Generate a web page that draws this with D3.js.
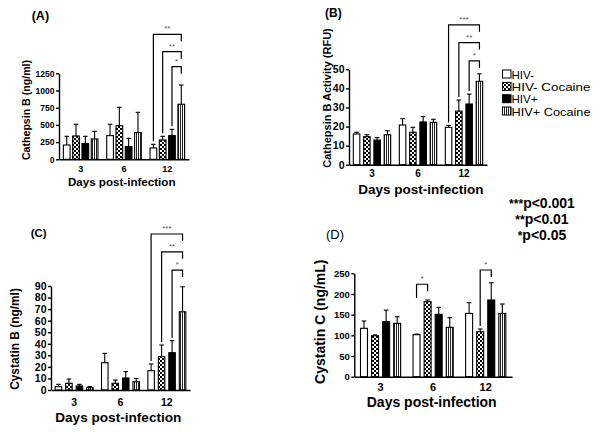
<!DOCTYPE html>
<html><head><meta charset="utf-8">
<script src="https://cdn.jsdelivr.net/npm/d3@7"></script>
<style>body{margin:0;background:#fff;}svg{display:block;font-family:"Liberation Sans",Arial,sans-serif;}</style>
</head><body>
<svg id="chart" width="600" height="432"></svg>
<script>
// ---------- data ----------
const days = ["3", "6", "12"];
const groups = ["HIV-", "HIV- Cocaine", "HIV+", "HIV+ Cocaine"];

// Panel A: Cathepsin B (ng/ml)
const cathepsinB_mean = [[208, 339, 228, 296], [344, 489, 184, 388], [165, 281, 344, 800]];
const cathepsinB_sem  = [[126, 170, 106, 111], [165, 267, 121, 295], [53, 53, 92, 280]];
const cathepsinB_ticks = [0, 250, 500, 750, 1000, 1250];
const cathepsinB_brackets = [[2, 0, 3, "**", 1817], [2, 1, 3, "**", 1564], [2, 2, 3, "*", 1346]];

// Panel B: Cathepsin B Activity (RFU)
const activity_mean = [[16.1, 14.7, 12.9, 15.7], [20.8, 17.0, 22.4, 22.2], [19.6, 28.1, 31.8, 43.7]];
const activity_sem  = [[0.9, 1.0, 1.3, 2.1], [3.3, 2.6, 2.8, 1.6], [1.0, 5.8, 5.2, 3.9]];
const activity_ticks = [0, 10, 20, 30, 40, 50];
const activity_brackets = [[2, 0, 3, "***", 73.3], [2, 1, 3, "**", 64], [2, 2, 3, "*", 54.4]];

// Panel C: Cystatin B (ng/ml)
const cystatinB_mean = [[2.9, 5.8, 3.5, 2.0], [23.6, 5.8, 10.4, 7.2], [16.7, 28.8, 32.3, 67.7]];
const cystatinB_sem  = [[2.0, 3.7, 1.4, 0.9], [8.1, 2.8, 5.5, 2.8], [5.8, 10.1, 10.4, 21.6]];
const cystatinB_ticks = [0, 10, 20, 30, 40, 50, 60, 70, 80, 90];
const cystatinB_brackets = [[2, 0, 3, "***", 135], [2, 1, 3, "**", 119.6], [2, 2, 3, "*", 103.8]];

// Panel D: Cystatin C (ng/mL)
const cystatinC_mean = [[117, 99, 133, 129], [101.6, 181.5, 150.8, 119.4], [153, 108.9, 185.5, 153]];
const cystatinC_sem  = [[17.7, 2, 28, 16], [1.4, 4, 16.9, 23.3], [26, 6.4, 41.5, 22.8]];
const cystatinC_ticks = [0, 50, 100, 150, 200, 250];
const cystatinC_brackets = [[1, 0, 1, "*", 223.5, 190], [2, 1, 2, "*", 258]];

const sigLabels = [["***", "p<0.001"], ["**", "p<0.01"], ["*", "p<0.05"]];

// ---------- layout ----------
const panels = [
  {label: "(A)", lw: "bold", lx: 31.7, ly: 20, lf: 12.5,
   mean: cathepsinB_mean, sem: cathepsinB_sem, ticks: cathepsinB_ticks, br: cathepsinB_brackets,
   ytitle: "Cathepsin B (ng/ml)", ytx: 26, yty: 110, ytf: 10.6,
   left: 59, right: 189, y0: 159.3, yTop: 73.3, pi: 0.28, po: 0.47,
   tf: 8.5, xf: 9, xpad: 6.3, xtf: 11.6, xtx: 121.7, xty: 186},
  {label: "(B)", lw: "bold", lx: 325, ly: 17, lf: 12,
   mean: activity_mean, sem: activity_sem, ticks: activity_ticks, br: activity_brackets,
   ytitle: "Cathepsin B Activity (RFU)", ytx: 326.7, yty: 98, ytf: 11,
   left: 349, right: 487, y0: 164.7, yTop: 69.3, pi: 0.37, po: 0.42,
   tf: 10.5, xf: 10, xpad: 5.1, xtf: 13.5, xtx: 420.8, xty: 194.3},
  {label: "(C)", lw: "bold", lx: 30.7, ly: 236.5, lf: 11.5,
   mean: cystatinB_mean, sem: cystatinB_sem, ticks: cystatinB_ticks, br: cystatinB_brackets,
   ytitle: "Cystatin B (ng/ml)", ytx: 15, yty: 339, ytf: 11.9,
   left: 51, right: 190, y0: 390, yTop: 286, pi: 0.38, po: 0.4,
   tf: 10.5, xf: 10.5, xpad: 9, xtf: 13.6, xtx: 118.3, xty: 421.7},
  {label: "(D)", lw: "normal", lx: 326, ly: 239, lf: 13,
   mean: cystatinC_mean, sem: cystatinC_sem, ticks: cystatinC_ticks, br: cystatinC_brackets,
   ytitle: "Cystatin C (ng/mL)", ytx: 320, yty: 321.7, ytf: 14,
   left: 354.3, right: 512, y0: 376.7, yTop: 273.3, pi: 0.37, po: 0.56,
   tf: 9.5, xf: 11, xpad: 6.2, xtf: 14, xtx: 431.7, xty: 406.7}
];

const svg = d3.select("#chart");
const defs = svg.append("defs");
// checker pattern
const chk = defs.append("pattern").attr("id", "checker").attr("patternUnits", "userSpaceOnUse")
  .attr("width", 4).attr("height", 4);
chk.append("rect").attr("width", 4).attr("height", 4).attr("fill", "#fff");
chk.append("rect").attr("width", 2).attr("height", 2).attr("fill", "#000");
chk.append("rect").attr("x", 2).attr("y", 2).attr("width", 2).attr("height", 2).attr("fill", "#000");
// vertical stripe pattern
const str = defs.append("pattern").attr("id", "stripes").attr("patternUnits", "userSpaceOnUse")
  .attr("width", 2).attr("height", 4);
str.append("rect").attr("width", 2).attr("height", 4).attr("fill", "#fff");
str.append("rect").attr("width", 1).attr("height", 4).attr("fill", "#222");

const fills = ["#fff", "url(#checker)", "#000", "url(#stripes)"];

panels.forEach(p => {
  const g = svg.append("g");
  const max = p.ticks[p.ticks.length - 1];
  const y = d3.scaleLinear().domain([0, max]).range([p.y0, p.yTop]);
  const x0 = d3.scaleBand().domain(days).range([p.left, p.right]).padding(0);
  const x1 = d3.scaleBand().domain(groups).range([0, x0.bandwidth()])
    .paddingInner(p.pi).paddingOuter(p.po);

  // bars + error bars
  days.forEach((d, di) => {
    groups.forEach((gr, gi) => {
      const m = p.mean[di][gi], s = p.sem[di][gi];
      const bx = x0(d) + x1(gr), bw = x1.bandwidth(), cx = bx + bw / 2;
      g.append("line").attr("x1", cx).attr("x2", cx).attr("y1", y(m)).attr("y2", y(m + s))
        .attr("stroke", "#000").attr("stroke-width", 1.1);
      g.append("line").attr("x1", cx - 2.3).attr("x2", cx + 2.3).attr("y1", y(m + s)).attr("y2", y(m + s))
        .attr("stroke", "#000").attr("stroke-width", 1.1);
      g.append("rect").attr("x", bx).attr("y", y(m)).attr("width", bw).attr("height", p.y0 - y(m))
        .attr("fill", fills[gi]).attr("stroke", "#000").attr("stroke-width", 1.1);
    });
  });

  // axes
  const ya = g.append("g").attr("transform", `translate(${p.left},0)`)
    .call(d3.axisLeft(y).tickValues(p.ticks).tickFormat(d3.format("d"))
      .tickSize(3).tickSizeOuter(0).tickPadding(1.5));
  ya.selectAll("text").attr("font-size", p.tf).attr("font-weight", "bold")
    .attr("font-family", "Liberation Sans, Arial, sans-serif").attr("fill", "#000");
  ya.selectAll("path,line").attr("stroke", "#000").attr("stroke-width", 1.4);

  const xa = g.append("g").attr("transform", `translate(0,${p.y0})`)
    .call(d3.axisBottom(x0).tickSize(0).tickSizeOuter(0).tickPadding(p.xpad));
  xa.selectAll("text").attr("font-size", p.xf).attr("font-weight", "bold")
    .attr("font-family", "Liberation Sans, Arial, sans-serif").attr("fill", "#000");
  xa.select("path").attr("stroke", "#000").attr("stroke-width", 1.4);

  // titles
  g.append("text").attr("x", p.xtx).attr("y", p.xty).attr("text-anchor", "middle")
    .attr("font-size", p.xtf).attr("font-weight", "bold").text("Days post-infection");
  g.append("text").attr("transform", `translate(${p.ytx},${p.yty}) rotate(-90)`)
    .attr("text-anchor", "middle").attr("dominant-baseline", "central")
    .attr("font-size", p.ytf).attr("font-weight", "bold").text(p.ytitle);
  g.append("text").attr("x", p.lx).attr("y", p.ly).attr("font-size", p.lf)
    .attr("font-weight", p.lw).text(p.label);

  // significance brackets
  p.br.forEach(b => {
    const [di, ga, gb, lab, top, leftEnd] = b;
    const d = days[di];
    const xa1 = x0(d) + x1(groups[ga]) + x1.bandwidth() / 2;
    const xb1 = x0(d) + x1(groups[gb]) + x1.bandwidth() / 2;
    const yt = y(top);
    const yl = leftEnd !== undefined ? y(leftEnd) : y(p.mean[di][ga] + p.sem[di][ga]) - 3;
    g.append("path").attr("d", `M${xa1},${yl}V${yt}H${xb1}V${yt + 7}`)
      .attr("fill", "none").attr("stroke", "#000").attr("stroke-width", 1.2);
    g.append("text").attr("x", (xa1 + xb1) / 2).attr("y", yt - 3).attr("text-anchor", "middle")
      .attr("font-size", 8).attr("fill", "#555").text(lab);
  });
});

// legend
const lg = svg.append("g");
const legY = [74, 86.4, 98.7, 111];
groups.forEach((gr, i) => {
  lg.append("rect").attr("x", 502.5).attr("y", legY[i] - 4).attr("width", 8.5).attr("height", 8)
    .attr("fill", fills[i]).attr("stroke", "#000").attr("stroke-width", 1);
  lg.append("text").attr("x", 511.5).attr("y", legY[i]).attr("dominant-baseline", "central")
    .attr("font-size", 11.6).attr("textLength", gr.length > 5 ? 79 : null)
    .attr("lengthAdjust", "spacingAndGlyphs").text(gr);
});

// p-value key
const sigY = [207.5, 224, 240];
sigLabels.forEach((s, i) => {
  const t = svg.append("text").attr("x", 542).attr("y", sigY[i]).attr("text-anchor", "middle")
    .attr("font-weight", "bold");
  t.append("tspan").attr("font-size", 12).text(s[0]);
  t.append("tspan").attr("font-size", 14).text(s[1]);
});
</script>
</body></html>
